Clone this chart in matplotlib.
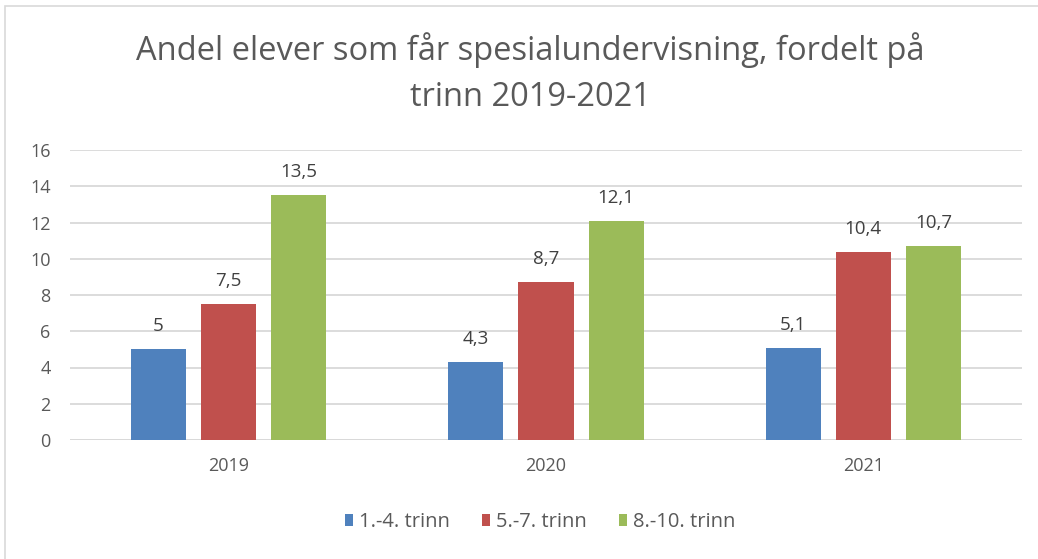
import matplotlib
matplotlib.use("Agg")
import matplotlib.pyplot as plt
from matplotlib.patches import Rectangle
import numpy as np

years = ["2019", "2020", "2021"]
series_names = ["1.-4. trinn", "5.-7. trinn", "8.-10. trinn"]
s1 = [5.0, 4.3, 5.1]
s2 = [7.5, 8.7, 10.4]
s3 = [13.5, 12.1, 10.7]
labels1 = ["5", "4,3", "5,1"]
labels2 = ["7,5", "8,7", "10,4"]
labels3 = ["13,5", "12,1", "10,7"]
colors = ["#4F81BD", "#C0504D", "#9BBB59"]

W, H = 1038, 559
fig = plt.figure(figsize=(W / 100, H / 100), dpi=100)
fig.patch.set_facecolor("white")

# chart frame
fig.add_artist(Rectangle((5 / W, 0 - 0.01), 1.05, (H - 6) / H + 0.01,
                         transform=fig.transFigure, fill=False,
                         edgecolor="#D9D9D9", linewidth=1.2))

ax = fig.add_axes([70 / W, (H - 440) / H, (1022 - 70) / W, (440 - 150) / H])
x = np.arange(len(years))
bw = 0.174
off = 0.221
font = ["Open Sans", "DejaVu Sans"]
for i, (vals, labs) in enumerate(zip([s1, s2, s3], [labels1, labels2, labels3])):
    bars = ax.bar(x + (i - 1) * off, vals, width=bw, color=colors[i],
                  label=series_names[i], zorder=3)
    for b, lab in zip(bars, labs):
        ax.annotate(lab, (b.get_x() + b.get_width() / 2, b.get_height()),
                    xytext=(0, 10), textcoords="offset points", ha="center",
                    va="bottom", fontsize=13.5, color="#404040", family=font)

ax.set_xlim(-0.5, 2.5)
ax.set_ylim(0, 16)
ax.set_yticks(np.arange(0, 17, 2))
ax.set_xticks(x)
ax.set_xticklabels(years)
for s in ax.spines.values():
    s.set_visible(False)
ax.grid(axis="y", color="#D9D9D9", linewidth=1.3, zorder=0)
ax.axhline(0, color="#D9D9D9", linewidth=1.3, zorder=2)
ax.tick_params(axis="both", length=0, labelsize=13, labelcolor="#595959")
ax.tick_params(axis="y", pad=14)
ax.tick_params(axis="x", pad=12)
for t in ax.get_xticklabels() + ax.get_yticklabels():
    t.set_family(font)

fig.text(530 / W, 1 - 50 / H, "Andel elever som får spesialundervisning, fordelt på",
         ha="center", va="center", fontsize=23.5, color="#595959",
         family=["Open Sans", "DejaVu Sans"])
fig.text(530 / W, 1 - 97 / H, "trinn 2019-2021",
         ha="center", va="center", fontsize=23.5, color="#595959",
         family=["Open Sans", "DejaVu Sans"])

leg = fig.legend(loc="center", bbox_to_anchor=(540 / W, 1 - 522 / H), ncol=3,
                 frameon=False, handlelength=0.4, handleheight=0.6,
                 handletextpad=0.3, columnspacing=1.6,
                 prop={"family": font, "size": 14.5})
for t in leg.get_texts():
    t.set_color("#595959")

fig.savefig("out.png", dpi=100, facecolor="white")
